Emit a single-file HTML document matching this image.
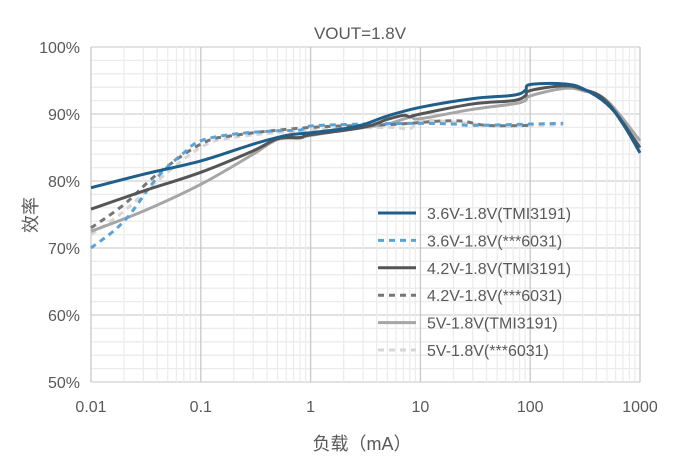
<!DOCTYPE html>
<html><head><meta charset="utf-8"><style>
body{margin:0;background:#fff}
svg{font-family:"Liberation Sans","Noto Sans CJK SC",sans-serif}
</style></head><body>
<svg id="c" width="694" height="462">
<text x="360" y="39" text-anchor="middle" font-size="17" fill="#595959">VOUT=1.8V</text>
<g id="grid"></g><g id="series"></g><g id="axes"></g><g id="legend"></g>
<text x="0" y="0" transform="translate(37,215) rotate(-90)" text-anchor="middle" font-size="18" fill="#595959">效率</text>
<text x="362" y="450" text-anchor="middle" font-size="18" fill="#595959">负载（mA）</text>
</svg>
<script>
const xTicks=[0.01,0.1,1,10,100,1000];
const xTickLabels=["0.01","0.1","1","10","100","1000"];
const yTicks=[50,60,70,80,90,100];
const seriesNames=["3.6V-1.8V(TMI3191)","3.6V-1.8V(***6031)","4.2V-1.8V(TMI3191)","4.2V-1.8V(***6031)","5V-1.8V(TMI3191)","5V-1.8V(***6031)"];
const s1x=[0.01,0.03,0.1,0.3,0.6,1,2,3,5,10,30,70,90,100,200,300,500,700,1000];
const s1y=[79,81,83,85.5,86.8,87.2,87.8,88.4,89.7,91,92.3,92.8,93.5,94.4,94.5,93.8,91.5,88.5,84.2];
const s2x=[0.01,0.02,0.04,0.07,0.1,0.2,0.5,0.8,1,3,10,20,30,100,200];
const s2y=[70,74,80.5,84.2,86,87,87.5,87.6,88.2,88.5,88.6,88.5,88.3,88.5,88.6];
const s3x=[0.01,0.03,0.1,0.3,0.5,0.8,1,3,5,7,8,10,30,70,90,100,200,300,500,1000];
const s3y=[75.8,78.5,81.3,84.5,86.3,86.5,86.9,88,89.2,89.8,89.6,90,91.5,92,92.7,93.5,94.2,93.7,91.8,85];
const s4x=[0.01,0.02,0.04,0.1,0.2,1,5,20,40,100];
const s4y=[73,76.5,81,85.5,86.8,88,88.4,89,88.3,88.3];
const s5x=[0.01,0.03,0.1,0.3,0.5,0.8,1,3,5,8,10,30,70,90,100,200,300,500,1000];
const s5y=[72.5,75.5,79.5,84,86.2,86.4,86.8,88,88.5,89.5,89.3,90.7,91.5,92,92.7,93.8,93.5,92,86];
const s6x=[0.01,0.02,0.04,0.1,0.2,1,5,8,10,20,50,100,200];
const s6y=[72,75.5,80,85,86.5,87.6,88,87.8,89,88.8,88.2,88.3,88.4];
const X0=91,X1=640,Y0=382,Y1=47;
const xs=v=>X0+(Math.log10(v)+2)/5*(X1-X0);
const ys=v=>Y0-(v-50)/50*(Y0-Y1);
const NS="http://www.w3.org/2000/svg";
function mk(t,a,p){const e=document.createElementNS(NS,t);for(const k in a)e.setAttribute(k,a[k]);p.appendChild(e);return e;}
function smooth(pts){let d='M'+pts[0][0]+','+pts[0][1];
for(let i=0;i<pts.length-1;i++){const p0=pts[Math.max(0,i-1)],p1=pts[i],p2=pts[i+1],p3=pts[Math.min(pts.length-1,i+2)];
const t=0.18;d+=' C'+(p1[0]+(p2[0]-p0[0])*t)+','+(p1[1]+(p2[1]-p0[1])*t)+' '+(p2[0]-(p3[0]-p1[0])*t)+','+(p2[1]-(p3[1]-p1[1])*t)+' '+p2[0]+','+p2[1];}
return d;}
const grid=document.getElementById('grid'),axes=document.getElementById('axes');
for(let v=50;v<=100;v+=2){const l=mk('line',{x1:X0,x2:X1,y1:ys(v),y2:ys(v),stroke:v%10==0?'#d0d0d0':'#ececec','stroke-width':1.3},grid);
}
for(let d=-2;d<3;d++)for(let m=2;m<10;m++){const l=mk('line',{x1:xs(m*Math.pow(10,d)),x2:xs(m*Math.pow(10,d)),y1:Y1,y2:Y0,stroke:'#ececec','stroke-width':1.3},grid);
}
xTicks.forEach((t,i)=>{const l=mk('line',{x1:xs(t),x2:xs(t),y1:Y1,y2:Y0,stroke:'#c8c8c8','stroke-width':1.3},grid);

const tx=mk('text',{x:xs(t),y:Y0+30,'text-anchor':'middle','font-size':16,fill:'#595959'},axes);tx.textContent=xTickLabels[i];
});
yTicks.forEach(t=>{const tx=mk('text',{x:X0-11,y:ys(t)+6,'text-anchor':'end','font-size':16,fill:'#595959'},axes);tx.textContent=t+'%';
});
const styles=[['#1f5f8b',null],['#5ba3d6','6,5'],['#555555',null],['#767676','6,5'],['#a6a6a6',null],['#d6d6d6','6,5']];
const data=[[s1x,s1y],[s2x,s2y],[s3x,s3y],[s4x,s4y],[s5x,s5y],[s6x,s6y]];
const sg=document.getElementById('series'),lg=document.getElementById('legend');
const order=[5,4,3,1,2,0];
order.forEach(i=>{const [dx,dy]=data[i];const p=mk('path',{d:smooth(dx.map((x,j)=>[xs(x),ys(dy[j])])),fill:'none',stroke:styles[i][0],'stroke-width':3,'stroke-linejoin':'round'},sg);
if(styles[i][1])p.setAttribute('stroke-dasharray',styles[i][1]);
});
seriesNames.forEach((n,i)=>{const y=213+i*27.4;const g=mk('g',{},lg);

const l=mk('line',{x1:378,x2:416,y1:y,y2:y,stroke:styles[i][0],'stroke-width':3},g);if(styles[i][1])l.setAttribute('stroke-dasharray',styles[i][1]);
const t=mk('text',{x:427,y:y+6,'font-size':16,fill:'#595959'},g);t.textContent=n;});
</script>
</body></html>
